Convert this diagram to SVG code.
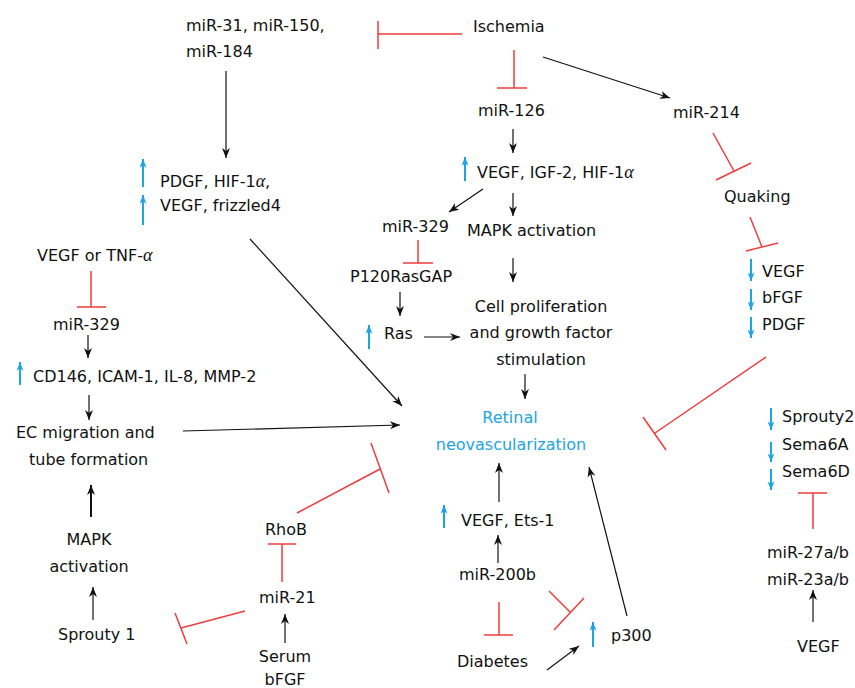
<svg xmlns="http://www.w3.org/2000/svg" width="855" height="688" viewBox="0 0 855 688">
<defs>
<style>
text{font-family:"DejaVu Sans","Verdana",sans-serif;font-size:16px;fill:#111}
.c{text-anchor:middle}
.blue{fill:#1ba4e6}
.g{font-family:"Liberation Serif","DejaVu Serif",serif;font-style:italic;font-size:18px}
.k{stroke:#111;stroke-width:1.2;fill:none;marker-end:url(#ak)}
.kt{stroke:#111;stroke-width:2;fill:none;marker-end:url(#ak2)}
.b{stroke:#1ba4e6;stroke-width:2;fill:none;marker-end:url(#ab)}
.r{stroke:#f03c3c;stroke-width:1.5;fill:none}
</style>
<marker id="ak" markerUnits="userSpaceOnUse" viewBox="0 0 10 8" refX="10" refY="4" markerWidth="10" markerHeight="8" orient="auto"><path d="M0,0 L10,4 L0,8 L3,4 z" fill="#111"/></marker>
<marker id="ak2" markerUnits="userSpaceOnUse" viewBox="0 0 10 8" refX="10" refY="4" markerWidth="10" markerHeight="8" orient="auto"><path d="M0,0 L10,4 L0,8 L3,4 z" fill="#111"/></marker>
<marker id="ab" markerUnits="userSpaceOnUse" viewBox="0 0 10 8" refX="10" refY="4" markerWidth="10" markerHeight="7" orient="auto"><path d="M0,0 L10,4 L0,8 L3,4 z" fill="#1ba4e6"/></marker>
</defs>
<rect width="855" height="688" fill="#fff"/>

<g id="connectors">
<line class="k" x1="226" y1="71" x2="226" y2="158"/>
<line class="k" x1="543" y1="57" x2="670" y2="98"/>
<line class="k" x1="513" y1="129" x2="513" y2="153"/>
<line class="k" x1="483" y1="189" x2="449" y2="212"/>
<line class="k" x1="513" y1="193" x2="513" y2="216"/>
<line class="k" x1="400" y1="292" x2="400" y2="316"/>
<line class="k" x1="424" y1="337" x2="460" y2="337"/>
<line class="k" x1="513" y1="258" x2="513" y2="282"/>
<line class="k" x1="525" y1="374" x2="525" y2="399"/>
<line class="k" x1="250" y1="239" x2="402" y2="406"/>
<line class="k" x1="88" y1="335" x2="88" y2="358"/>
<line class="k" x1="89" y1="395" x2="89" y2="420"/>
<line class="k" x1="183" y1="431" x2="400" y2="425"/>
<line class="kt" x1="91" y1="517" x2="91" y2="485"/>
<line class="k" x1="93" y1="620" x2="93" y2="587"/>
<line class="k" x1="285" y1="643" x2="285" y2="614"/>
<line class="k" x1="499" y1="502" x2="499" y2="463"/>
<line class="k" x1="498" y1="563" x2="498" y2="535"/>
<line class="k" x1="547" y1="670" x2="579" y2="646"/>
<line class="k" x1="627" y1="616" x2="589" y2="467"/>
<line class="k" x1="813" y1="622" x2="813" y2="590"/>

<line class="b" x1="143" y1="187" x2="143" y2="159"/>
<line class="b" x1="143" y1="225" x2="143" y2="195"/>
<line class="b" x1="465" y1="181" x2="465" y2="157"/>
<line class="b" x1="369" y1="349" x2="369" y2="325"/>
<line class="b" x1="20" y1="385" x2="20" y2="362"/>
<line class="b" x1="444" y1="528" x2="444" y2="505"/>
<line class="b" x1="593" y1="647" x2="593" y2="622"/>
<line class="b" x1="751" y1="259" x2="751" y2="281"/>
<line class="b" x1="751" y1="289" x2="751" y2="310"/>
<line class="b" x1="751" y1="317" x2="751" y2="338"/>
<line class="b" x1="771" y1="408" x2="771" y2="430"/>
<line class="b" x1="771" y1="442" x2="771" y2="462"/>
<line class="b" x1="771" y1="469" x2="771" y2="490"/>

<path class="r" d="M462,34 L378,34 M378,21 L378,49"/>
<path class="r" d="M514,50 L514,88 M497,88 L527,88"/>
<path class="r" d="M713,133 L734,171 M716,180 L751,163"/>
<path class="r" d="M750,217 L762,247 M746,251 L778,243"/>
<path class="r" d="M766,357 L655,433 M643,417 L666,450"/>
<path class="r" d="M813,529 L813,493 M798,493 L827,493"/>
<path class="r" d="M418,240 L418,263 M403,263 L433,263"/>
<path class="r" d="M91,271 L91,307 M77,307 L106,307"/>
<path class="r" d="M245,611 L181,628 M175,613 L187,644"/>
<path class="r" d="M282,582 L282,544 M268,544 L296,544"/>
<path class="r" d="M297,513 L380,469 M371,443 L389,493"/>
<path class="r" d="M499,602 L499,635 M484,635 L513,635"/>
<path class="r" d="M549,591 L570,612 M554,630 L584,598"/>
</g>

<g id="n-mir31"><text x="186" y="31">miR-31, miR-150,</text><text x="186" y="57">miR-184</text></g>
<g id="n-ischemia"><text x="473" y="32">Ischemia</text></g>
<g id="n-mir126"><text x="478" y="116">miR-126</text></g>
<g id="n-mir214"><text x="673" y="118">miR-214</text></g>
<g id="n-vegf-igf"><text x="477" y="178">VEGF, IGF-2, HIF-1<tspan class="g">α</tspan></text></g>
<g id="n-quaking"><text x="724" y="202">Quaking</text></g>
<g id="n-pdgf"><text x="160" y="187">PDGF, HIF-1<tspan class="g">α</tspan>,</text><text x="160" y="211">VEGF, frizzled4</text></g>
<g id="n-mir329a"><text x="382" y="232">miR-329</text></g>
<g id="n-mapk1"><text x="467" y="236">MAPK activation</text></g>
<g id="n-vegf-tnf"><text x="37" y="261">VEGF or TNF-<tspan class="g">α</tspan></text></g>
<g id="n-p120"><text x="350" y="282">P120RasGAP</text></g>
<g id="n-vegf-down"><text x="762" y="277">VEGF</text><text x="762" y="303">bFGF</text><text x="762" y="330">PDGF</text></g>
<g id="n-mir329b"><text x="53" y="330">miR-329</text></g>
<g id="n-cell"><text class="c" x="541" y="312">Cell proliferation</text><text class="c" x="541" y="338">and growth factor</text><text class="c" x="541" y="365">stimulation</text></g>
<g id="n-ras"><text x="384" y="339">Ras</text></g>
<g id="n-cd146"><text x="33" y="382">CD146, ICAM-1, IL-8, MMP-2</text></g>
<g id="n-retinal"><text class="c blue" x="510" y="423">Retinal</text><text class="c blue" x="511" y="450">neovascularization</text></g>
<g id="n-sprouty2"><text x="782" y="422">Sprouty2</text><text x="782" y="450">Sema6A</text><text x="782" y="477">Sema6D</text></g>
<g id="n-ec"><text x="16" y="438">EC migration and</text><text x="29" y="465">tube formation</text></g>
<g id="n-vegf-ets"><text x="461" y="526">VEGF, Ets-1</text></g>
<g id="n-rhob"><text x="265" y="535">RhoB</text></g>
<g id="n-mapk2"><text class="c" x="89" y="545">MAPK</text><text class="c" x="89" y="572">activation</text></g>
<g id="n-mir27"><text x="767" y="558">miR-27a/b</text><text x="767" y="585">miR-23a/b</text></g>
<g id="n-mir200b"><text x="459" y="580">miR-200b</text></g>
<g id="n-mir21"><text x="259" y="603">miR-21</text></g>
<g id="n-sprouty1"><text x="58" y="640">Sprouty 1</text></g>
<g id="n-p300"><text x="611" y="641">p300</text></g>
<g id="n-vegf-b"><text x="797" y="652">VEGF</text></g>
<g id="n-serum"><text class="c" x="285" y="662">Serum</text><text class="c" x="285" y="685">bFGF</text></g>
<g id="n-diabetes"><text x="457" y="667">Diabetes</text></g>
</svg>
